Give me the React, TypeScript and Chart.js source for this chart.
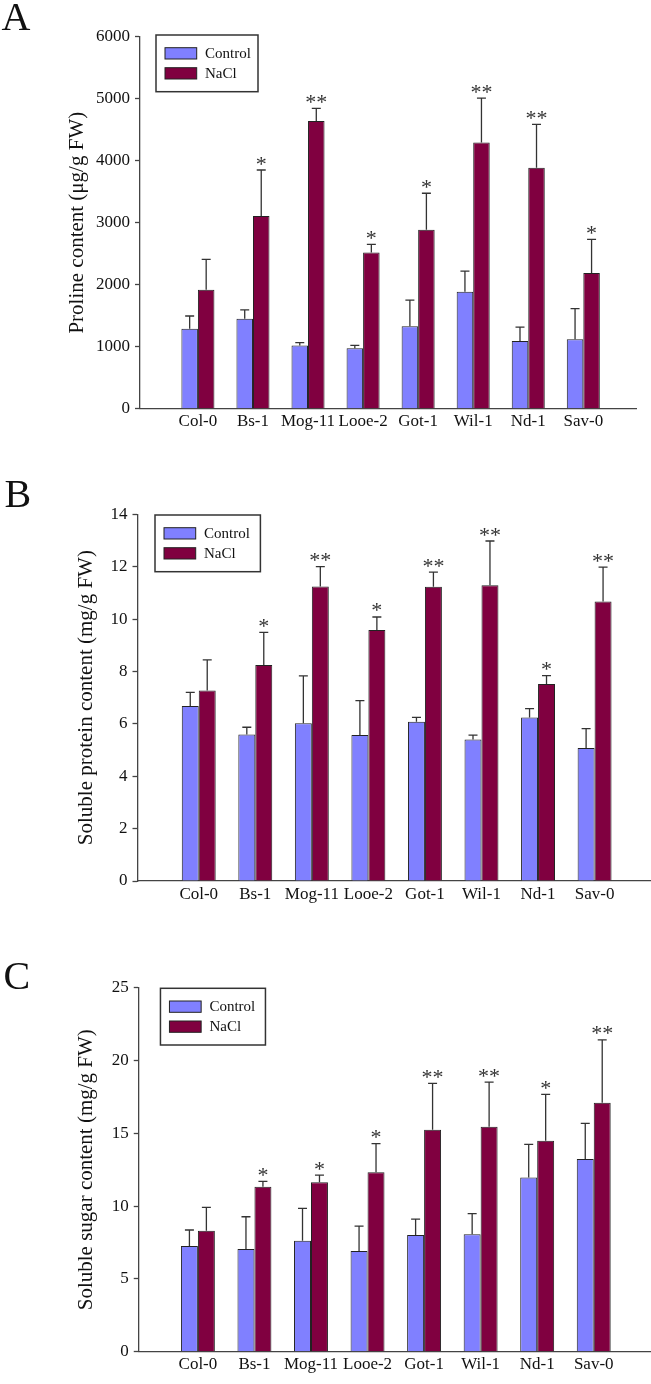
import React, { useEffect, useRef } from 'react';
import { Chart, registerables } from 'chart.js';
Chart.register(...registerables);

const FONT = '"Liberation Serif", "Times New Roman", serif';

// ---------- data ----------
const categories = ['Col-0', 'Bs-1', 'Mog-11', 'Looe-2', 'Got-1', 'Wil-1', 'Nd-1', 'Sav-0'];
const seriesLabels = ['Control', 'NaCl'];

const prolineControl = [1290, 1450, 1020, 975, 1330, 1885, 1090, 1120];
const prolineControlErr = [205, 145, 45, 45, 420, 335, 225, 495];
const prolineNaCl = [1920, 3110, 4640, 2520, 2885, 4295, 3885, 2190];
const prolineNaClErr = [490, 740, 205, 130, 590, 715, 700, 540];
const prolineStars = ['', '*', '**', '*', '*', '**', '**', '*'];

const proteinControl = [6.68, 5.59, 6.02, 5.57, 6.08, 5.4, 6.24, 5.08];
const proteinControlErr = [0.52, 0.28, 1.81, 1.32, 0.17, 0.17, 0.34, 0.74];
const proteinNaCl = [7.27, 8.25, 11.24, 9.58, 11.23, 11.29, 7.52, 10.67];
const proteinNaClErr = [1.17, 1.24, 0.76, 0.5, 0.56, 1.69, 0.32, 1.31];
const proteinStars = ['', '*', '**', '*', '**', '**', '*', '**'];

const sugarControl = [7.26, 7.05, 7.62, 6.91, 8.01, 8.06, 11.97, 13.23];
const sugarControlErr = [1.1, 2.22, 2.22, 1.72, 1.1, 1.42, 2.27, 2.45];
const sugarNaCl = [8.31, 11.33, 11.63, 12.32, 15.25, 15.45, 14.49, 17.1];
const sugarNaClErr = [1.6, 0.37, 0.5, 1.97, 3.18, 3.07, 3.18, 4.31];
const sugarStars = ['', '*', '*', '*', '**', '**', '*', '**'];

const COLORS = ['#8080ff', '#800040'];

interface Panel {
  letter: string;
  letterX: number;
  letterY: number;
  height: number;
  top: number;
  title: string;
  yMax: number;
  yStep: number;
  control: number[];
  controlErr: number[];
  nacl: number[];
  naclErr: number[];
  stars: string[];
  xMin: number;
  xMax: number;
  pad: { left: number; right: number; top: number; bottom: number };
  yWidth: number;
  titlePad: number;
  legend: { dx: number; dy: number; w: number; h: number };
}

const panels: Panel[] = [
  {
    letter: 'A', letterX: 1.5, letterY: 30, height: 460, top: 0,
    title: 'Proline content (μg/g FW)', yMax: 6000, yStep: 1000,
    control: prolineControl, controlErr: prolineControlErr,
    nacl: prolineNaCl, naclErr: prolineNaClErr, stars: prolineStars,
    xMin: -1.052, xMax: 7.957,
    pad: { left: 60, right: 15, top: 36.7, bottom: 21.3 }, yWidth: 80, titlePad: 5,
    legend: { dx: 16, dy: -1.7, w: 102, h: 56.7 },
  },
  {
    letter: 'B', letterX: 4.5, letterY: 46.7, height: 460, top: 460,
    title: 'Soluble protein content (mg/g FW)', yMax: 14, yStep: 2,
    control: proteinControl, controlErr: proteinControlErr,
    nacl: proteinNaCl, naclErr: proteinNaClErr, stars: proteinStars,
    xMin: -1.083, xMax: 7.98,
    pad: { left: 60, right: 1, top: 54.3, bottom: 9 }, yWidth: 77.5, titlePad: 14,
    legend: { dx: 17.5, dy: 0.7, w: 105.4, h: 56.7 },
  },
  {
    letter: 'C', letterX: 3.5, letterY: 69.3, height: 464, top: 920,
    title: 'Soluble sugar content (mg/g FW)', yMax: 25, yStep: 5,
    control: sugarControl, controlErr: sugarControlErr,
    nacl: sugarNaCl, naclErr: sugarNaClErr, stars: sugarStars,
    xMin: -1.046, xMax: 7.995,
    pad: { left: 60, right: 1, top: 67.7, bottom: 2.3 }, yWidth: 78.75, titlePad: 14,
    legend: { dx: 21.7, dy: 0.6, w: 105, h: 56.7 },
  },
];

function buildChart(canvas: HTMLCanvasElement, p: Panel) {
  const means = [p.control, p.nacl];
  const errs = [p.controlErr, p.naclErr];

  const errPlugin = {
    id: 'errStars',
    afterDatasetsDraw(chart: any) {
      const ctx = chart.ctx;
      const ys = chart.scales.y;
      chart.data.datasets.forEach((_ds: any, di: number) => {
        const meta = chart.getDatasetMeta(di);
        meta.data.forEach((bar: any, i: number) => {
          const { x, y } = bar.getProps(['x', 'y'], true);
          const top = ys.getPixelForValue(means[di][i] + errs[di][i]);
          ctx.save();
          ctx.strokeStyle = '#333';
          ctx.lineWidth = 1.3;
          ctx.beginPath();
          ctx.moveTo(x, y);
          ctx.lineTo(x, top);
          ctx.moveTo(x - 4.5, top);
          ctx.lineTo(x + 4.5, top);
          ctx.stroke();
          if (di === 1 && p.stars[i]) {
            ctx.fillStyle = '#333';
            ctx.font = `22px ${FONT}`;
            ctx.textAlign = 'center';
            ctx.textBaseline = 'alphabetic';
            ctx.fillText(p.stars[i], x, top + 0.5);
          }
          ctx.restore();
        });
      });
    },
  };

  const legendPlugin = {
    id: 'boxLegend',
    afterDraw(chart: any) {
      const ctx = chart.ctx;
      const ca = chart.chartArea;
      const bx = ca.left + p.legend.dx;
      const by = ca.top + p.legend.dy;
      ctx.save();
      ctx.fillStyle = '#fff';
      ctx.fillRect(bx, by, p.legend.w, p.legend.h);
      ctx.strokeStyle = '#333';
      ctx.lineWidth = 1.5;
      ctx.strokeRect(bx, by, p.legend.w, p.legend.h);
      chart.data.datasets.forEach((ds: any, di: number) => {
        const sy = by + 12.7 + di * 20;
        ctx.fillStyle = ds.backgroundColor;
        ctx.fillRect(bx + 9, sy, 31.7, 11.3);
        ctx.strokeStyle = '#222';
        ctx.lineWidth = 1;
        ctx.strokeRect(bx + 9, sy, 31.7, 11.3);
        ctx.fillStyle = '#111';
        ctx.font = `15px ${FONT}`;
        ctx.textAlign = 'left';
        ctx.textBaseline = 'middle';
        ctx.fillText(ds.label, bx + 49, sy + 6);
      });
      // panel letter
      ctx.fillStyle = '#111';
      ctx.font = `40px ${FONT}`;
      ctx.textAlign = 'left';
      ctx.textBaseline = 'alphabetic';
      ctx.fillText(p.letter, p.letterX, p.letterY);
      ctx.restore();
    },
  };

  return new Chart(canvas, {
    type: 'bar',
    data: {
      datasets: [0, 1].map((di) => ({
        label: seriesLabels[di],
        data: means[di].map((v, i) => ({ x: i, y: v })),
        backgroundColor: COLORS[di],
        borderColor: '#222',
        borderWidth: 1,
        categoryPercentage: 0.6,
        barPercentage: 1,
      })),
    },
    options: {
      animation: false,
      responsive: false,
      maintainAspectRatio: false,
      layout: { padding: p.pad },
      plugins: { legend: { display: false }, tooltip: { enabled: false } },
      scales: {
        x: {
          type: 'linear',
          min: p.xMin,
          max: p.xMax,
          offset: false,
          grid: { display: false, drawTicks: false },
          border: { display: true, color: '#444', width: 1.3 },
          afterBuildTicks: (s: any) => {
            s.ticks = categories.map((_c, i) => ({ value: i }));
          },
          afterFit: (s: any) => {
            s.height = 30;
          },
          ticks: {
            autoSkip: false,
            maxRotation: 0,
            padding: 3,
            color: '#111',
            font: { family: FONT, size: 17 },
            callback: (v: any) => categories[Math.round(Number(v))] ?? '',
          },
        },
        y: {
          min: 0,
          max: p.yMax,
          ticks: {
            stepSize: p.yStep,
            padding: 5,
            color: '#111',
            font: { family: FONT, size: 17 },
            callback: (v: any) => String(v),
          },
          grid: { drawOnChartArea: false, tickLength: 5, color: '#444', tickWidth: 1.3 },
          border: { display: true, color: '#444', width: 1.3 },
          afterFit: (s: any) => {
            s.width = p.yWidth;
          },
          title: {
            display: true,
            text: p.title,
            color: '#111',
            font: { family: FONT, size: 21 },
            padding: { top: p.titlePad, bottom: 0 },
          },
        },
      },
    },
    plugins: [errPlugin, legendPlugin],
  } as any);
}

function PanelChart({ p }: { p: Panel }) {
  const ref = useRef<HTMLCanvasElement | null>(null);
  useEffect(() => {
    if (!ref.current) return;
    const c = buildChart(ref.current, p);
    return () => c.destroy();
  }, [p]);
  return (
    <canvas
      ref={ref}
      width={651}
      height={p.height}
      style={{ position: 'absolute', left: 0, top: p.top, width: 651, height: p.height, display: 'block' }}
    />
  );
}

export default function App() {
  return (
    <div style={{ position: 'absolute', left: 0, top: 0, width: 651, height: 1384, background: '#fff' }}>
      {panels.map((p) => (
        <PanelChart key={p.letter} p={p} />
      ))}
    </div>
  );
}
